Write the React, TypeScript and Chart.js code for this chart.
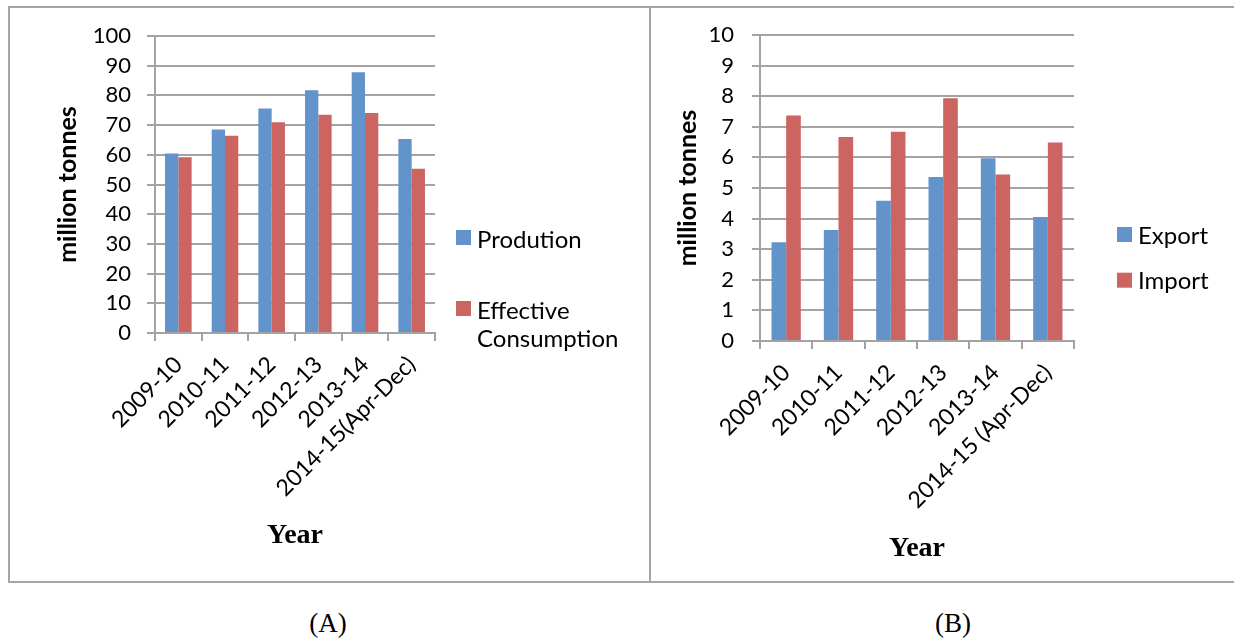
import React, { useEffect, useRef } from "react";
import { Chart, registerables } from "chart.js";

Chart.register(...registerables);

// ---------- data ----------
const categoriesA = ["2009-10", "2010-11", "2011-12", "2012-13", "2013-14", "2014-15(Apr-Dec)"];
const productionA = [60.4, 68.5, 75.6, 81.7, 87.8, 65.3];
const consumptionA = [59.2, 66.4, 71.0, 73.5, 74.1, 55.3];
const yTicksA = [0, 10, 20, 30, 40, 50, 60, 70, 80, 90, 100];

const categoriesB = ["2009-10", "2010-11", "2011-12", "2012-13", "2013-14", "2014-15 (Apr-Dec)"];
const exportB = [3.23, 3.63, 4.58, 5.36, 5.97, 4.05];
const importB = [7.37, 6.67, 6.84, 7.93, 5.44, 6.49];
const yTicksB = [0, 1, 2, 3, 4, 5, 6, 7, 8, 9, 10];

const BLUE = "#6393cb";
const RED = "#cc6561";
const GRID = "#a3a3a3";
const SANS = "Lato";
const SERIF = "'Liberation Serif', 'Times New Roman', serif";

const CANVAS_H = 600;

function wrapText(ctx: CanvasRenderingContext2D, text: string, maxWidth: number): string[] {
  const words = text.split(" ");
  const lines: string[] = [];
  let cur = "";
  for (const w of words) {
    const test = cur ? cur + " " + w : w;
    if (cur && ctx.measureText(test).width > maxWidth) {
      lines.push(cur);
      cur = w;
    } else {
      cur = test;
    }
  }
  if (cur) lines.push(cur);
  return lines;
}

const customLegend = {
  id: "customLegend",
  afterDraw(chart: any, _args: any, opts: any) {
    const { ctx } = chart;
    ctx.save();
    ctx.font = `${opts.fontSize}px ${SANS}`;
    ctx.textBaseline = "alphabetic";
    ctx.textAlign = "left";
    let top = opts.top;
    chart.data.datasets.forEach((ds: any) => {
      const lines = wrapText(ctx, ds.label, opts.maxWidth);
      ctx.fillStyle = ds.backgroundColor;
      ctx.fillRect(opts.left, top, opts.boxSize, opts.boxSize);
      ctx.fillStyle = "#000";
      lines.forEach((ln, j) => {
        ctx.fillText(ln, opts.left + opts.boxSize + opts.textGap, top + opts.baselineOffset + j * opts.lineHeight);
      });
      top += opts.itemSpacing + (lines.length - 1) * opts.lineHeight;
    });
    ctx.restore();
  },
};

interface Cfg {
  categories: string[];
  series: { label: string; data: number[]; color: string }[];
  yTicks: number[];
  width: number;
  padding: { left: number; top: number; right: number; bottom: number };
  yWidth: number;
  xHeight: number;
  catPct: number;
  yPad: number;
  xPad: number;
  legend: any;
}

function BarPanel({ cfg, style }: { cfg: Cfg; style: React.CSSProperties }) {
  const ref = useRef<HTMLCanvasElement | null>(null);
  useEffect(() => {
    if (!ref.current) return;
    const yMin = cfg.yTicks[0];
    const yMax = cfg.yTicks[cfg.yTicks.length - 1];
    const chart = new Chart(ref.current, {
      type: "bar",
      data: {
        labels: cfg.categories,
        datasets: cfg.series.map((s) => ({
          label: s.label,
          data: s.data,
          backgroundColor: s.color,
          borderWidth: 0,
          barPercentage: 1,
          categoryPercentage: cfg.catPct,
        })),
      },
      options: {
        responsive: false,
        animation: false,
        devicePixelRatio: 1,
        layout: { padding: cfg.padding },
        plugins: {
          legend: { display: false },
          tooltip: { enabled: false },
          customLegend: cfg.legend,
        } as any,
        scales: {
          x: {
            afterFit: (s: any) => {
              s.height = cfg.xHeight;
            },
            ticks: {
              font: { family: SANS, size: 23 },
              color: "#000",
              maxRotation: 45,
              minRotation: 45,
              autoSkip: false,
              padding: cfg.xPad,
            },
            grid: { drawOnChartArea: false, color: GRID, lineWidth: 2, tickLength: 8, offset: true },
            border: { color: GRID, width: 2 },
            title: {
              display: true,
              text: "Year",
              font: { family: SERIF, size: 28, weight: "bold" },
              color: "#000",
              padding: 0,
            },
          },
          y: {
            min: yMin,
            max: yMax,
            afterBuildTicks: (s: any) => {
              s.ticks = cfg.yTicks.map((v) => ({ value: v }));
            },
            afterFit: (s: any) => {
              s.width = cfg.yWidth;
            },
            ticks: { font: { family: SANS, size: 22 }, color: "#000", padding: cfg.yPad },
            grid: { color: GRID, lineWidth: 2, tickLength: 8 },
            border: { color: GRID, width: 2 },
            title: {
              display: true,
              text: "million tonnes",
              font: { family: SANS, size: 25, weight: "bold" },
              color: "#000",
              padding: 0,
            },
          },
        },
      },
      plugins: [customLegend],
    } as any);
    return () => chart.destroy();
  }, [cfg]);
  return (
    <canvas
      ref={ref}
      width={cfg.width}
      height={CANVAS_H}
      style={{ position: "absolute", width: cfg.width, height: CANVAS_H, ...style }}
    />
  );
}

const cfgA: Cfg = {
  categories: categoriesA,
  series: [
    { label: "Prodution", data: productionA, color: BLUE },
    { label: "Effective Consumption", data: consumptionA, color: RED },
  ],
  yTicks: yTicksA,
  width: 650,
  padding: { left: 53, top: 36, right: 215, bottom: 47 },
  yWidth: 102,
  xHeight: 220,
  catPct: 0.57,
  yPad: 16,
  xPad: 10,
  legend: {
    left: 456,
    top: 230,
    boxSize: 15,
    textGap: 6,
    baselineOffset: 18,
    lineHeight: 28,
    itemSpacing: 71,
    maxWidth: 170,
    fontSize: 24,
  },
};

const cfgB: Cfg = {
  categories: categoriesB,
  series: [
    { label: "Export", data: exportB, color: BLUE },
    { label: "Import", data: importB, color: RED },
  ],
  yTicks: yTicksB,
  width: 584,
  padding: { left: 23, top: 35, right: 160, bottom: 34 },
  yWidth: 87,
  xHeight: 225,
  catPct: 0.56,
  yPad: 18,
  xPad: 10,
  legend: {
    left: 467,
    top: 227,
    boxSize: 15,
    textGap: 6,
    baselineOffset: 16.5,
    lineHeight: 28,
    itemSpacing: 45.7,
    maxWidth: 110,
    fontSize: 24,
  },
};

const captionStyle: React.CSSProperties = {
  position: "absolute",
  width: 100,
  top: 608,
  textAlign: "center",
  fontFamily: SERIF,
  fontSize: 27,
  lineHeight: "30px",
};

export default function App() {
  return (
    <div style={{ position: "absolute", left: 0, top: 0, width: 1234, height: 639, overflow: "hidden", background: "#fff" }}>
      <div
        style={{
          position: "absolute",
          left: 8,
          top: 6,
          width: 1240,
          height: 577,
          border: "2px solid #a5a5a5",
          boxSizing: "border-box",
        }}
      />
      <div style={{ position: "absolute", left: 649, top: 6, width: 2, height: 577, background: "#a5a5a5" }} />
      <BarPanel cfg={cfgA} style={{ left: 0, top: 0 }} />
      <BarPanel cfg={cfgB} style={{ left: 650, top: 0 }} />
      <div style={{ ...captionStyle, left: 278 }}>(A)</div>
      <div style={{ ...captionStyle, left: 903 }}>(B)</div>
    </div>
  );
}
